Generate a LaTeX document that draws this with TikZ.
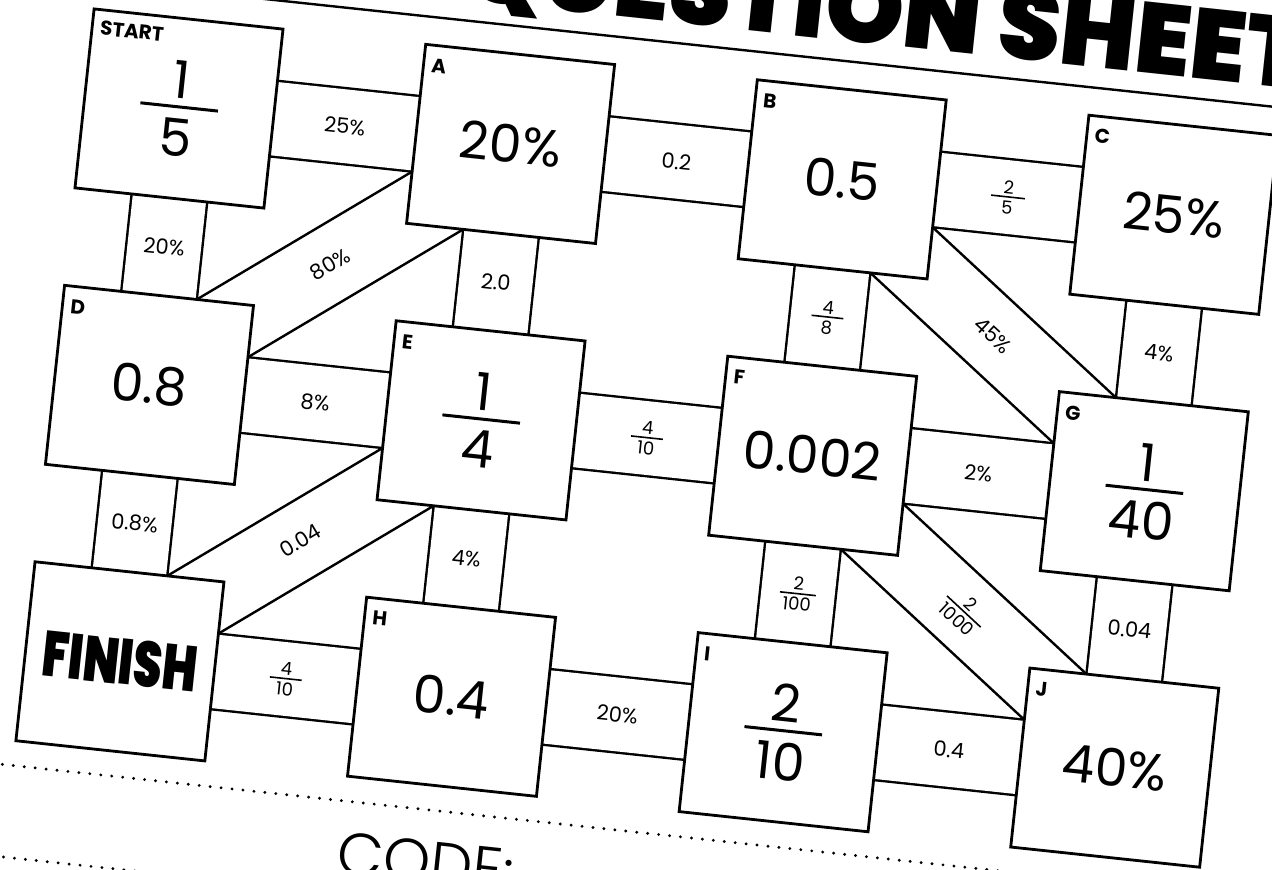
\documentclass[tikz,border=0pt]{standalone}
\usepackage{fontspec}
\setmainfont{Poppins}
\IfFontExistsTF{Poppins Black}{\newfontfamily\heavyfont{Poppins Black}}{\newfontfamily\heavyfont{Poppins}[UprightFont=* Bold]}
\IfFontExistsTF{Poppins Light}{\newfontfamily\lightfont{Poppins Light}}{\newfontfamily\lightfont{Poppins}}
\pgfdeclarelayer{bg}
\pgfsetlayers{bg,main}
\newcommand\vfrac[6]{\vbox{\offinterlineskip
  \hbox to #3{\hss #1\hss}%
  \kern#5\relax
  \hbox{\vrule width #3 height #4 depth 0pt}%
  \kern#6\relax
  \hbox to #3{\hss #2\hss}}}
\newcommand\bigfrac[2]{\vfrac{#1}{#2}{78pt}{3pt}{7pt}{10pt}}
\newcommand\smfrac[3]{\vfrac{#1}{#2}{#3}{1.6pt}{2.5pt}{3pt}}
\begin{document}
\begin{tikzpicture}[x=1pt,y=-1pt,
  box/.style={draw, line width=2.8pt, fill=white, minimum width=190pt, minimum height=180pt, inner sep=0pt, outer sep=0pt},
  band/.style={line width=2.4pt, double=white, double distance=73.6pt},
  dband/.style={draw, line width=2.4pt, fill=white},
  val/.style={font=\fontsize{52}{58}\selectfont, inner sep=0pt},
  bval/.style={font=\fontsize{21}{24}\selectfont, inner sep=0pt},
  sval/.style={font=\fontsize{18}{21}\selectfont, inner sep=0pt},
  tag/.style={font=\bfseries\fontsize{20}{24}\selectfont, anchor=west, inner sep=0pt},
  dots/.style={line width=3.2pt, line cap=round, dash pattern=on 0pt off 11pt},
  rule/.style={line width=2.4pt}]
\useasboundingbox (0,0) rectangle (1272,870);
\begin{pgfonlayer}{bg}
\fill[white] (0,0) rectangle (1272,870);
\end{pgfonlayer}
\begin{scope}[shift={(179,108.5)}, rotate=-6.1, transform shape]
% boxes
\node[box] (START) at (0,0) {};
\node[box] (A) at (333.5,0) {};
\node[box] (B) at (667,0) {};
\node[box] (C) at (1000.5,0) {};
\node[box] (D) at (0,278) {};
\node[box] (E) at (333.5,278) {};
\node[box] (F) at (667,278) {};
\node[box] (G) at (1000.5,278) {};
\node[box] (FIN) at (0,556) {};
\node[box] (H) at (333.5,556) {};
\node[box] (I) at (667,556) {};
\node[box] (J) at (1000.5,556) {};
% diagonal band corners
\coordinate (adP1) at (238.5,38);  \coordinate (adP2) at (295.5,90);
\coordinate (adQ1) at (38,188);    \coordinate (adQ2) at (95,240);
\coordinate (efP1) at (238.5,316); \coordinate (efP2) at (295.5,368);
\coordinate (efQ1) at (38,466);    \coordinate (efQ2) at (95,518);
\coordinate (bgP1) at (762,38);    \coordinate (bgP2) at (705,90);
\coordinate (bgQ1) at (962.5,188); \coordinate (bgQ2) at (905.5,240);
\coordinate (fjP1) at (762,316);   \coordinate (fjP2) at (705,368);
\coordinate (fjQ1) at (962.5,466); \coordinate (fjQ2) at (905.5,518);
\begin{pgfonlayer}{bg}
\draw[band] (START.center) -- (A.center);
\draw[band] (A.center) -- (B.center);
\draw[band] (B.center) -- (C.center);
\draw[band] (D.center) -- (E.center);
\draw[band] (E.center) -- (F.center);
\draw[band] (F.center) -- (G.center);
\draw[band] (FIN.center) -- (H.center);
\draw[band] (H.center) -- (I.center);
\draw[band] (I.center) -- (J.center);
\draw[band] (START.center) -- (D.center);
\draw[band] (A.center) -- (E.center);
\draw[band] (B.center) -- (F.center);
\draw[band] (C.center) -- (G.center);
\draw[band] (D.center) -- (FIN.center);
\draw[band] (E.center) -- (H.center);
\draw[band] (F.center) -- (I.center);
\draw[band] (G.center) -- (J.center);
\draw[dband] (adP1) -- (adQ1) -- (adQ2) -- (adP2) -- cycle;
\draw[dband] (efP1) -- (efQ1) -- (efQ2) -- (efP2) -- cycle;
\draw[dband] (bgP1) -- (bgQ1) -- (bgQ2) -- (bgP2) -- cycle;
\draw[dband] (fjP1) -- (fjQ1) -- (fjQ2) -- (fjP2) -- cycle;
\end{pgfonlayer}
% box contents
\node[val] (vSTART) at (START) {\bigfrac{1}{5}};
\node[val] (vA) at (A) {20\%};
\node[val] (vB) at (B) {0.5};
\node[val] (vC) at (C) {25\%};
\node[val] (vD) at (D) {0.8};
\node[val] (vE) at (E) {\bigfrac{1}{4}};
\node[val] (vF) at (F) {0.002};
\node[val] (vG) at (G) {\bigfrac{1}{40}};
\node[inner sep=0pt, xscale=0.72, font=\heavyfont\fontsize{64}{70}\selectfont] (vFIN) at (FIN) {FINISH};
\node[val] (vH) at (H) {0.4};
\node[val] (vI) at (I) {\bigfrac{2}{10}};
\node[val] (vJ) at (J) {40\%};
% corner tags
\node[tag] (tSTART) at (-87,-72) {START};
\node[tag] (tA) at (246.5,-70) {A};
\node[tag] (tB) at (580,-70) {B};
\node[tag] (tC) at (913.5,-70) {C};
\node[tag] (tD) at (-87,208) {D};
\node[tag] (tE) at (246.5,208) {E};
\node[tag] (tF) at (580,208) {F};
\node[tag] (tG) at (913.5,208) {G};
\node[tag] (tH) at (246.5,486) {H};
\node[tag] (tI) at (580,486) {I};
\node[tag] (tJ) at (913.5,486) {J};
% band labels
\path (START.center) -- (A.center) node[midway, bval] (lSA) {25\%};
\path (A.center) -- (B.center) node[midway, bval] (lAB) {0.2};
\path (B.center) -- (C.center) node[midway, sval] (lBC) {\smfrac{2}{5}{34pt}};
\path (START.center) -- (D.center) node[midway, bval] (lSD) {20\%};
\path (A.center) -- (E.center) node[midway, bval] (lAE) {2.0};
\path (B.center) -- (F.center) node[midway, sval] (lBF) {\smfrac{4}{8}{32pt}};
\path (C.center) -- (G.center) node[midway, bval] (lCG) {4\%};
\path (A.center) -- (D.center) node[midway, bval, rotate=36.8] (lAD) {80\%};
\path (B.center) -- (G.center) node[midway, bval, rotate=-36.8] (lBG) {45\%};
\path (D.center) -- (E.center) node[midway, bval] (lDE) {8\%};
\path (E.center) -- (F.center) node[midway, sval] (lEF) {\smfrac{4}{10}{32pt}};
\path (F.center) -- (G.center) node[midway, bval] (lFG) {2\%};
\path (D.center) -- (FIN.center) node[midway, bval] (lDFIN) {0.8\%};
\path (E.center) -- (H.center) node[midway, bval] (lEH) {4\%};
\path (F.center) -- (I.center) node[midway, sval] (lFI) {\smfrac{2}{100}{36pt}};
\path (G.center) -- (J.center) node[midway, bval] (lGJ) {0.04};
\path (E.center) -- (FIN.center) node[midway, bval, rotate=36.8] (lEFIN) {0.04};
\path (F.center) -- (J.center) node[midway, sval, rotate=-36.8] (lFJ) {\smfrac{2}{1000}{46pt}};
\path (FIN.center) -- (H.center) node[midway, sval] (lFINH) {\smfrac{4}{10}{32pt}};
\path (H.center) -- (I.center) node[midway, bval] (lHI) {20\%};
\path (I.center) -- (J.center) node[midway, bval] (lIJ) {0.4};
% title and rules
\coordinate (tl1) at (-300,-118);
\coordinate (tl2) at (1400,-118);
\draw[rule] (tl1) -- (tl2);
\node[anchor=base east, inner sep=0pt, font=\heavyfont\fontsize{100}{110}\selectfont] (title) at (1117,-138) {QUESTION SHEET};
\coordinate (d1a) at (-150,671);
\coordinate (d1b) at (1100,671);
\coordinate (d2a) at (-150,763);
\coordinate (d2b) at (1100,763);
\draw[dots] (d1a) -- (d1b);
\draw[dots] (d2a) -- (d2b);
\node[inner sep=0pt, font=\lightfont\fontsize{60}{66}\selectfont] (code) at (325,723) {CODE:};
\end{scope}
\end{tikzpicture}
\end{document}
